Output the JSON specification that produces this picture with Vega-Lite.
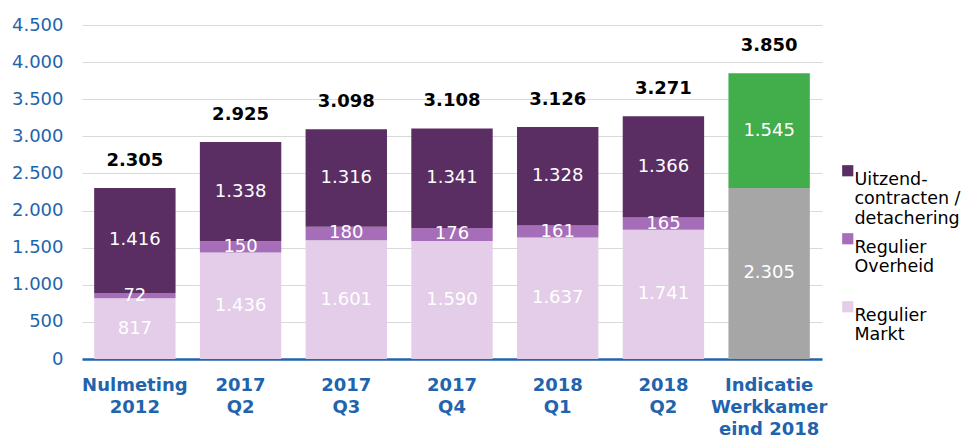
{
  "$schema": "https://vega.github.io/schema/vega-lite/v6.json",
  "width": 740,
  "height": 334,
  "autosize": {"type": "none"},
  "padding": {"left": 82, "top": 25, "right": 149, "bottom": 77},
  "background": "white",
  "config": {
    "locale": {"number": {"decimal": ",", "thousands": ".", "grouping": [3], "currency": ["€", ""]}},
    "view": {"stroke": null},
    "font": "DejaVu Sans",
    "axisY": {
      "title": null,
      "values": [0, 500, 1000, 1500, 2000, 2500, 3000, 3500, 4000, 4500],
      "format": ",d",
      "labelFont": "DejaVu Sans",
      "labelFontSize": 18,
      "labelColor": "#1F64AD",
      "labelPadding": 19,
      "labelOverlap": false,
      "labelFlush": false,
      "ticks": false,
      "tickSize": 0,
      "domain": false,
      "gridColor": "#D9D9D9",
      "gridWidth": 1.2
    }
  },
  "datasets": {
    "segments": [
      {"cat": "Nulmeting|2012", "series": "Regulier Markt", "order": 1, "value": 817},
      {"cat": "Nulmeting|2012", "series": "Regulier Overheid", "order": 2, "value": 72},
      {"cat": "Nulmeting|2012", "series": "Uitzendcontracten", "order": 3, "value": 1416},
      {"cat": "2017|Q2", "series": "Regulier Markt", "order": 1, "value": 1436},
      {"cat": "2017|Q2", "series": "Regulier Overheid", "order": 2, "value": 150},
      {"cat": "2017|Q2", "series": "Uitzendcontracten", "order": 3, "value": 1338},
      {"cat": "2017|Q3", "series": "Regulier Markt", "order": 1, "value": 1601},
      {"cat": "2017|Q3", "series": "Regulier Overheid", "order": 2, "value": 180},
      {"cat": "2017|Q3", "series": "Uitzendcontracten", "order": 3, "value": 1316},
      {"cat": "2017|Q4", "series": "Regulier Markt", "order": 1, "value": 1590},
      {"cat": "2017|Q4", "series": "Regulier Overheid", "order": 2, "value": 176},
      {"cat": "2017|Q4", "series": "Uitzendcontracten", "order": 3, "value": 1341},
      {"cat": "2018|Q1", "series": "Regulier Markt", "order": 1, "value": 1637},
      {"cat": "2018|Q1", "series": "Regulier Overheid", "order": 2, "value": 161},
      {"cat": "2018|Q1", "series": "Uitzendcontracten", "order": 3, "value": 1328},
      {"cat": "2018|Q2", "series": "Regulier Markt", "order": 1, "value": 1741},
      {"cat": "2018|Q2", "series": "Regulier Overheid", "order": 2, "value": 165},
      {"cat": "2018|Q2", "series": "Uitzendcontracten", "order": 3, "value": 1366},
      {"cat": "Indicatie|Werkkamer|eind 2018", "series": "Basis", "order": 1, "value": 2305},
      {"cat": "Indicatie|Werkkamer|eind 2018", "series": "Extra", "order": 2, "value": 1545}
    ],
    "totals": [
      {"cat": "Nulmeting|2012", "total": 2305},
      {"cat": "2017|Q2", "total": 2925},
      {"cat": "2017|Q3", "total": 3098},
      {"cat": "2017|Q4", "total": 3108},
      {"cat": "2018|Q1", "total": 3126},
      {"cat": "2018|Q2", "total": 3271},
      {"cat": "Indicatie|Werkkamer|eind 2018", "total": 3850}
    ]
  },
  "layer": [
    {
      "data": {"name": "segments"},
      "transform": [
        {"stack": "value", "groupby": ["cat"], "sort": [{"field": "order"}], "as": ["v0", "v1"]},
        {"calculate": "(datum.v0 + datum.v1) / 2", "as": "mid"}
      ],
      "layer": [
        {
          "mark": {"type": "bar"},
          "encoding": {
            "x": {
              "field": "cat", "type": "nominal", "sort": null,
              "scale": {"paddingInner": 0.23, "paddingOuter": 0.115},
              "axis": {
                "title": null,
                "labelExpr": "split(datum.label, '|')",
                "labelAngle": 0,
                "labelFont": "DejaVu Sans",
                "labelFontSize": 18,
                "labelFontWeight": "bold",
                "labelColor": "#1F64AD",
                "labelLineHeight": 22,
                "labelPadding": 17,
                "labelBaseline": "top",
                "ticks": false,
                "tickSize": 0,
                "domainColor": "#1F64AD",
                "domainWidth": 2.5,
                "labelLimit": 200
              }
            },
            "y": {
              "field": "v0", "type": "quantitative", "title": null,
              "scale": {"domain": [0, 4500], "nice": false}
            },
            "y2": {"field": "v1"},
            "color": {
              "field": "series", "type": "nominal",
              "scale": {
                "domain": ["Uitzendcontracten", "Regulier Overheid", "Regulier Markt", "Basis", "Extra"],
                "range": ["#5A2E63", "#A66DB8", "#E4CDE8", "#A6A6A6", "#42AD4B"]
              },
              "legend": {
                "values": ["Uitzendcontracten", "Regulier Overheid", "Regulier Markt"],
                "title": null,
                "orient": "none",
                "legendX": 757,
                "legendY": 137,
                "symbolType": "square",
                "symbolSize": 125,
                "symbolStrokeWidth": 0,
                "labelFont": "DejaVu Sans",
                "labelFontSize": 17.5,
                "labelColor": "#000000",
                "labelOffset": -2,
                "labelBaseline": "top",
                "labelLimit": 200,
                "gridAlign": "all",
                "rowPadding": 2,
                "labelExpr": "datum.label == 'Uitzendcontracten' ? ['Uitzend-', 'contracten /', 'detachering'] : datum.label == 'Regulier Overheid' ? ['Regulier', 'Overheid'] : ['Regulier', 'Markt']"
              }
            }
          }
        },
        {
          "mark": {"type": "text", "color": "white", "font": "DejaVu Sans", "fontSize": 18, "baseline": "middle"},
          "encoding": {
            "x": {"field": "cat", "type": "nominal", "sort": null},
            "y": {"field": "mid", "type": "quantitative", "title": null},
            "text": {"field": "value", "type": "quantitative", "format": ",d"}
          }
        }
      ]
    },
    {
      "data": {"name": "totals"},
      "mark": {"type": "text", "color": "black", "font": "DejaVu Sans", "fontSize": 18, "fontWeight": "bold", "baseline": "alphabetic", "dy": -22},
      "encoding": {
        "x": {"field": "cat", "type": "nominal", "sort": null},
        "y": {"field": "total", "type": "quantitative", "title": null},
        "text": {"field": "total", "type": "quantitative", "format": ",d"}
      }
    }
  ]
}
